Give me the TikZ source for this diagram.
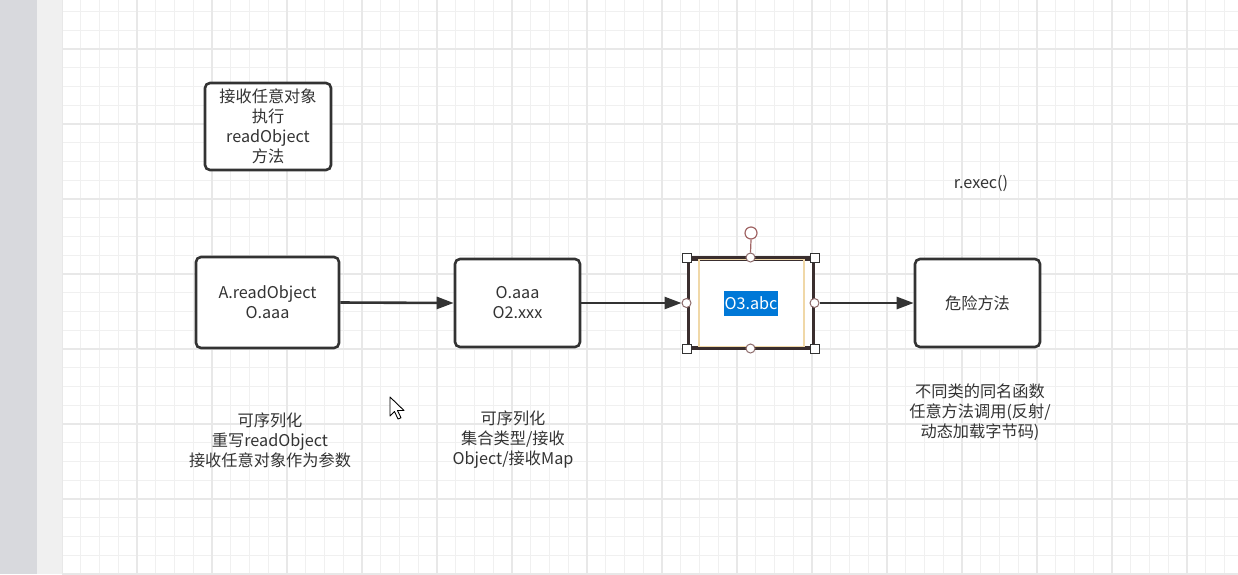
\documentclass[tikz,border=0pt]{standalone}
\usepackage{fontspec}
\setmainfont{Noto Sans CJK SC}
\usetikzlibrary{arrows.meta}
\definecolor{ink}{HTML}{333333}
\definecolor{gridminor}{HTML}{F0F0F0}
\definecolor{gridmajor}{HTML}{E8E8E8}
\definecolor{sidebar}{HTML}{D8D9DD}
\definecolor{sidestrip}{HTML}{F0F0F0}
\definecolor{selline}{HTML}{3A2E2E}
\definecolor{beige}{HTML}{F0D8A8}
\definecolor{handlec}{HTML}{8C6A6A}
\definecolor{rotc}{HTML}{A06464}
\definecolor{selblue}{HTML}{0078D7}
\tikzset{
  boxnode/.style={draw=ink, line width=2.6pt, rounded corners=5pt, fill=white, align=center,
    font=\fontsize{16.2}{20}\selectfont, text=ink, inner sep=0pt},
  lbl/.style={align=center, font=\fontsize{16.2}{20}\selectfont, text=ink, inner sep=0pt},
  conn/.style={draw=ink, line width=2.6pt, -{Triangle[length=17pt,width=12pt]}},
  minorline/.style={draw=gridminor, line width=1.1pt},
  majorline/.style={draw=gridmajor, line width=1.2pt},
  sqhandle/.style={draw=ink, fill=white, line width=0.9pt, minimum size=9pt, inner sep=0pt},
  cirhandle/.style={draw=handlec, fill=white, line width=1pt, circle, minimum size=9pt, inner sep=0pt},
}
\begin{document}
\begin{tikzpicture}[x=1pt,y=-1pt]
\useasboundingbox (0,0) rectangle (1238,574);
\fill[white] (0,0) rectangle (1238,574);
% grid
\foreach \i in {0,...,62} { \draw[minorline] ({62+18.75*\i},0) -- ({62+18.75*\i},574); }
\foreach \j in {0,...,29} { \draw[minorline] (62,{11.5+18.75*\j}) -- (1238,{11.5+18.75*\j}); }
\foreach \i in {0,...,15} { \draw[majorline] ({62+75*\i},0) -- ({62+75*\i},574); }
\foreach \j in {0,...,7} { \draw[majorline] (62,{49+75*\j}) -- (1238,{49+75*\j}); }
% side strips
\fill[sidebar] (0,0) rectangle (37,574);
\fill[sidestrip] (37,0) rectangle (61.5,574);

% nodes
\node[boxnode, minimum width=126pt, minimum height=87pt] (top) at (268,126.5)
  {接收任意对象\\执行\\readObject\\方法};
\node[boxnode, minimum width=143pt, minimum height=91pt] (a) at (267.5,302.5)
  {A.readObject\\O.aaa};
\node[boxnode, minimum width=125pt, minimum height=88pt] (o2) at (517.5,303)
  {O.aaa\\O2.xxx};
\node[draw=selline, line width=3pt, fill=white, minimum width=125pt, minimum height=88pt, inner sep=0pt] (o3) at (750.5,303) {};
\node[boxnode, minimum width=125pt, minimum height=88pt] (d) at (977.5,303)
  {危险方法};

% selection decorations on o3
\draw[beige, line width=2pt] ([xshift=12pt,yshift=-1.5pt]o3.north west) rectangle ([xshift=-11pt,yshift=1.5pt]o3.south east);
\draw[selline, line width=3pt] (o3.north west) -- (o3.north east) (o3.south west) -- (o3.south east);
\node[fill=selblue, minimum width=54pt, minimum height=25pt, inner sep=0pt, text=white,
  font=\fontsize{16.2}{20}\selectfont] (sel) at (751,303.5) {O3.abc};
\node[sqhandle] (h1) at (o3.north west) {};
\node[sqhandle] (h2) at (o3.north east) {};
\node[sqhandle] (h3) at (o3.south west) {};
\node[sqhandle] (h4) at (o3.south east) {};
\node[cirhandle] (c1) at (o3.north) {};
\node[cirhandle] (c2) at (o3.south) {};
\node[cirhandle] (c3) at (o3.west) {};
\node[cirhandle] (c4) at (o3.east) {};
\node[draw=rotc, fill=white, line width=1.2pt, circle, minimum size=12pt, inner sep=0pt] (rot) at (751,233) {};
\draw[rotc, line width=1.2pt] (rot.south) -- (c1.north);

% connectors
\draw[conn] (a.east) -- (o2.west);
\draw[conn] (o2.east) -- (c3.west);
\draw[conn] (c4.east) -- (d.west);

% labels
\node[lbl] (rexec) at (981,183) {r.exec()};
\node[lbl] (la) at (270,440) {可序列化\\重写readObject\\接收任意对象作为参数};
\node[lbl] (lo) at (513,440) {可序列化\\集合类型/接收\\Object/接收Map};
\node[lbl] (ld) at (980,412) {不同类的同名函数\\任意方法调用(反射/\\动态加载字节码)};

% mouse cursor
\draw[black, fill=white, line width=0.9pt, line join=round]
  (390,397) -- (390,416) -- (394.5,411.5) -- (398,419) -- (401,417.8) -- (397.5,410.5) -- (404,410.5) -- cycle;
\end{tikzpicture}
\end{document}
